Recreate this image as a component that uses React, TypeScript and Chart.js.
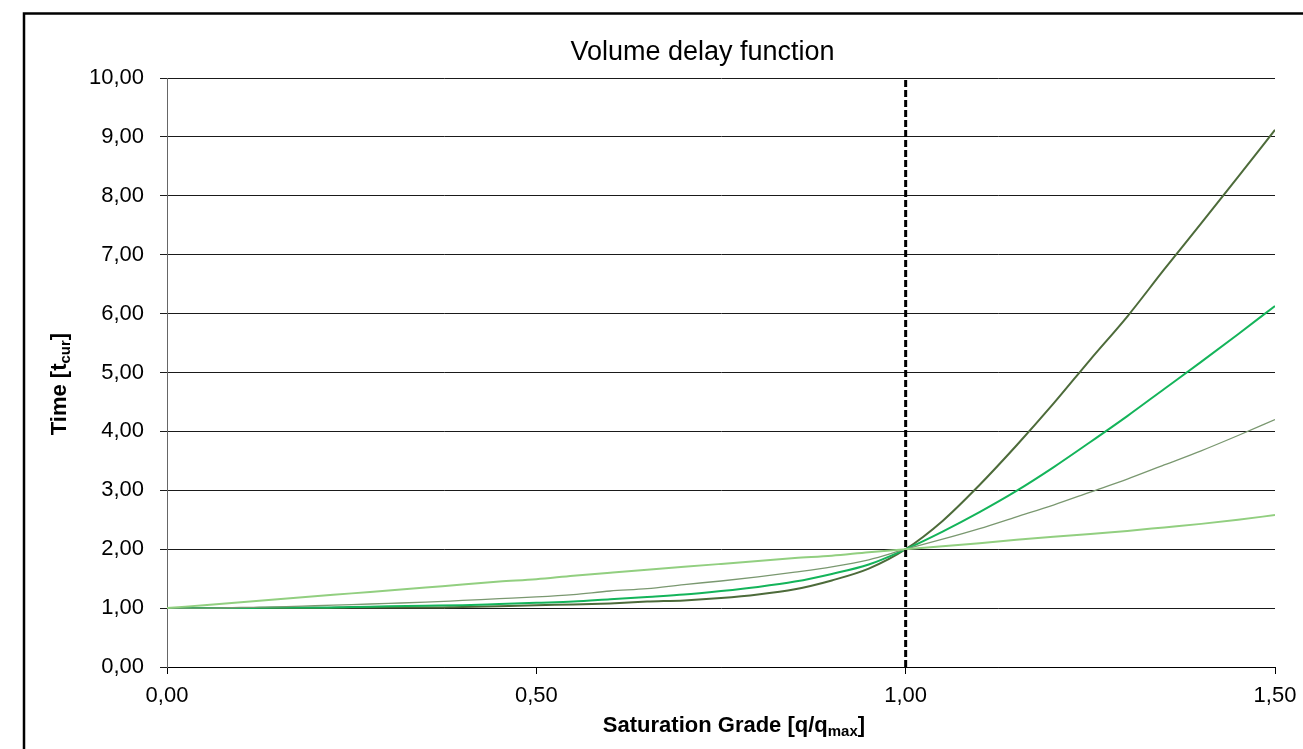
import React, { useEffect, useRef } from "react";
import { Chart, registerables } from "chart.js";

Chart.register(...registerables);

// Saturation grade q/qmax
const satGrade = [
  0.0, 0.05, 0.1, 0.15, 0.2, 0.25, 0.3, 0.35, 0.4, 0.45, 0.5, 0.55, 0.6, 0.65, 0.7, 0.75,
  0.8, 0.85, 0.9, 0.95, 1.0, 1.05, 1.1, 1.15, 1.2, 1.25, 1.3, 1.35, 1.4, 1.45, 1.5,
];

// Time [t_cur] per curve
const timeLight = [
  1.0, 1.05, 1.1, 1.15, 1.2, 1.25, 1.3, 1.35, 1.4, 1.45, 1.49, 1.55, 1.6, 1.65, 1.7, 1.75,
  1.8, 1.85, 1.89, 1.95, 2.0, 2.05, 2.1, 2.16, 2.21, 2.26, 2.31, 2.37, 2.43, 2.5, 2.58,
];
const timeOlive = [
  1.0, 1.0, 1.01, 1.02, 1.04, 1.06, 1.08, 1.1, 1.13, 1.16, 1.19, 1.23, 1.29, 1.33, 1.4, 1.46,
  1.53, 1.61, 1.7, 1.82, 2.0, 2.17, 2.35, 2.55, 2.75, 2.97, 3.19, 3.43, 3.67, 3.93, 4.2,
];
const timeGreen = [
  1.0, 1.0, 1.0, 1.01, 1.01, 1.02, 1.03, 1.04, 1.05, 1.07, 1.09, 1.11, 1.15, 1.19, 1.23, 1.29,
  1.36, 1.45, 1.58, 1.74, 2.0, 2.3, 2.63, 2.99, 3.39, 3.82, 4.26, 4.72, 5.18, 5.65, 6.13,
];
const timeDark = [
  1.0, 1.0, 1.0, 1.0, 1.0, 1.01, 1.01, 1.01, 1.02, 1.03, 1.05, 1.06, 1.08, 1.11, 1.13, 1.17,
  1.23, 1.32, 1.47, 1.67, 2.0, 2.48, 3.09, 3.76, 4.47, 5.22, 5.95, 6.75, 7.53, 8.32, 9.12,
];

// Capacity marker (vertical dashed line at q/qmax = 1)
const capacityX = [1.0, 1.0];
const capacityY = [0, 10];

const chartTitle = "Volume delay function";
const xTitleParts = [
  { text: "Saturation Grade [q/q", sub: false },
  { text: "max", sub: true },
  { text: "]", sub: false },
];
const yTitleParts = [
  { text: "Time [t", sub: false },
  { text: "cur", sub: true },
  { text: "]", sub: false },
];

const FONT = "'Liberation Sans', Arial, Helvetica, sans-serif";

const fmt = (v: number) => v.toFixed(2).replace(".", ",");

const pts = (xs: number[], ys: number[]) => xs.map((x, i) => ({ x, y: ys[i] }));

function drawRich(
  ctx: CanvasRenderingContext2D,
  parts: { text: string; sub: boolean }[],
  cx: number,
  baseline: number,
  mainFont: string,
  subFont: string,
  subShift: number
) {
  let total = 0;
  const widths = parts.map((p) => {
    ctx.font = p.sub ? subFont : mainFont;
    const w = ctx.measureText(p.text).width;
    total += w;
    return w;
  });
  let x = cx - total / 2;
  ctx.textAlign = "left";
  ctx.textBaseline = "alphabetic";
  parts.forEach((p, i) => {
    ctx.font = p.sub ? subFont : mainFont;
    ctx.fillText(p.text, x, baseline + (p.sub ? subShift : 0));
    x += widths[i];
  });
}

const decorPlugin = {
  id: "decor",
  beforeDraw(chart: any) {
    const ctx = chart.ctx;
    ctx.save();
    ctx.fillStyle = "#ffffff";
    ctx.fillRect(0, 0, chart.width, chart.height);
    ctx.strokeStyle = "#000000";
    ctx.lineWidth = 2.5;
    ctx.strokeRect(24, 13.5, chart.width + 20, chart.height + 20);
    ctx.restore();
  },
  afterDraw(chart: any) {
    const ctx = chart.ctx;
    ctx.save();
    ctx.fillStyle = "#000000";
    // chart title
    ctx.font = `27px ${FONT}`;
    ctx.textAlign = "center";
    ctx.textBaseline = "alphabetic";
    ctx.fillText(chartTitle, 702.5, 60);
    // x title
    drawRich(ctx, xTitleParts, 734, 732, `bold 22px ${FONT}`, `bold 15px ${FONT}`, 4);
    // y title
    ctx.translate(66, 384);
    ctx.rotate(-Math.PI / 2);
    drawRich(ctx, yTitleParts, 0, 0, `bold 22px ${FONT}`, `bold 15px ${FONT}`, 4);
    ctx.restore();
  },
};

export default function App() {
  const ref = useRef<HTMLCanvasElement | null>(null);

  useEffect(() => {
    if (!ref.current) return;
    const chart = new Chart(ref.current, {
      type: "line",
      data: {
        datasets: [
          {
            label: "Capacity",
            data: pts(capacityX, capacityY),
            borderColor: "#000000",
            borderWidth: 3,
            borderDash: [7, 3],
            pointRadius: 0,
            tension: 0,
          },
          {
            label: "Light",
            data: pts(satGrade, timeLight),
            borderColor: "#92cf80",
            borderWidth: 2,
            pointRadius: 0,
            cubicInterpolationMode: "monotone",
          },
          {
            label: "Olive",
            data: pts(satGrade, timeOlive),
            borderColor: "#7a9870",
            borderWidth: 1.3,
            pointRadius: 0,
            cubicInterpolationMode: "monotone",
          },
          {
            label: "Green",
            data: pts(satGrade, timeGreen),
            borderColor: "#14b45a",
            borderWidth: 2,
            pointRadius: 0,
            cubicInterpolationMode: "monotone",
          },
          {
            label: "Dark",
            data: pts(satGrade, timeDark),
            borderColor: "#4d6b3a",
            borderWidth: 2,
            pointRadius: 0,
            cubicInterpolationMode: "monotone",
          },
        ],
      },
      options: {
        responsive: false,
        animation: false,
        layout: { padding: { left: 0, top: 78, right: 28, bottom: 0 } },
        plugins: {
          legend: { display: false },
          title: { display: false },
          tooltip: { enabled: false },
        },
        scales: {
          x: {
            type: "linear",
            min: 0,
            max: 1.5,
            afterFit: (s: any) => {
              s.height = 82;
              s.paddingRight = 20;
              s.paddingLeft = 20;
            },
            ticks: {
              stepSize: 0.5,
              callback: (v: any) => fmt(Number(v)),
              font: { family: FONT, size: 22 },
              color: "#000000",
              padding: 9,
              maxRotation: 0,
            },
            grid: {
              drawOnChartArea: false,
              drawTicks: true,
              tickLength: 7,
              color: "#000000",
            },
            border: { display: true, color: "#000000", width: 1 },
          },
          y: {
            type: "linear",
            min: 0,
            max: 10,
            afterFit: (s: any) => {
              s.width = 167;
              s.paddingTop = 14;
              s.paddingBottom = 14;
            },
            ticks: {
              stepSize: 1,
              callback: (v: any) => fmt(Number(v)),
              font: { family: FONT, size: 22 },
              color: "#000000",
              padding: 16,
            },
            grid: {
              color: "#1a1a1a",
              lineWidth: 1,
              tickLength: 7,
              drawTicks: true,
            },
            border: { display: true, color: "#666666", width: 1 },
          },
        },
      },
      plugins: [decorPlugin],
    });
    return () => chart.destroy();
  }, []);

  return (
    <div style={{ position: "fixed", left: 0, top: 0, width: 1303, height: 749, background: "#fff" }}>
      <canvas ref={ref} width={1303} height={749} style={{ display: "block" }} />
    </div>
  );
}
